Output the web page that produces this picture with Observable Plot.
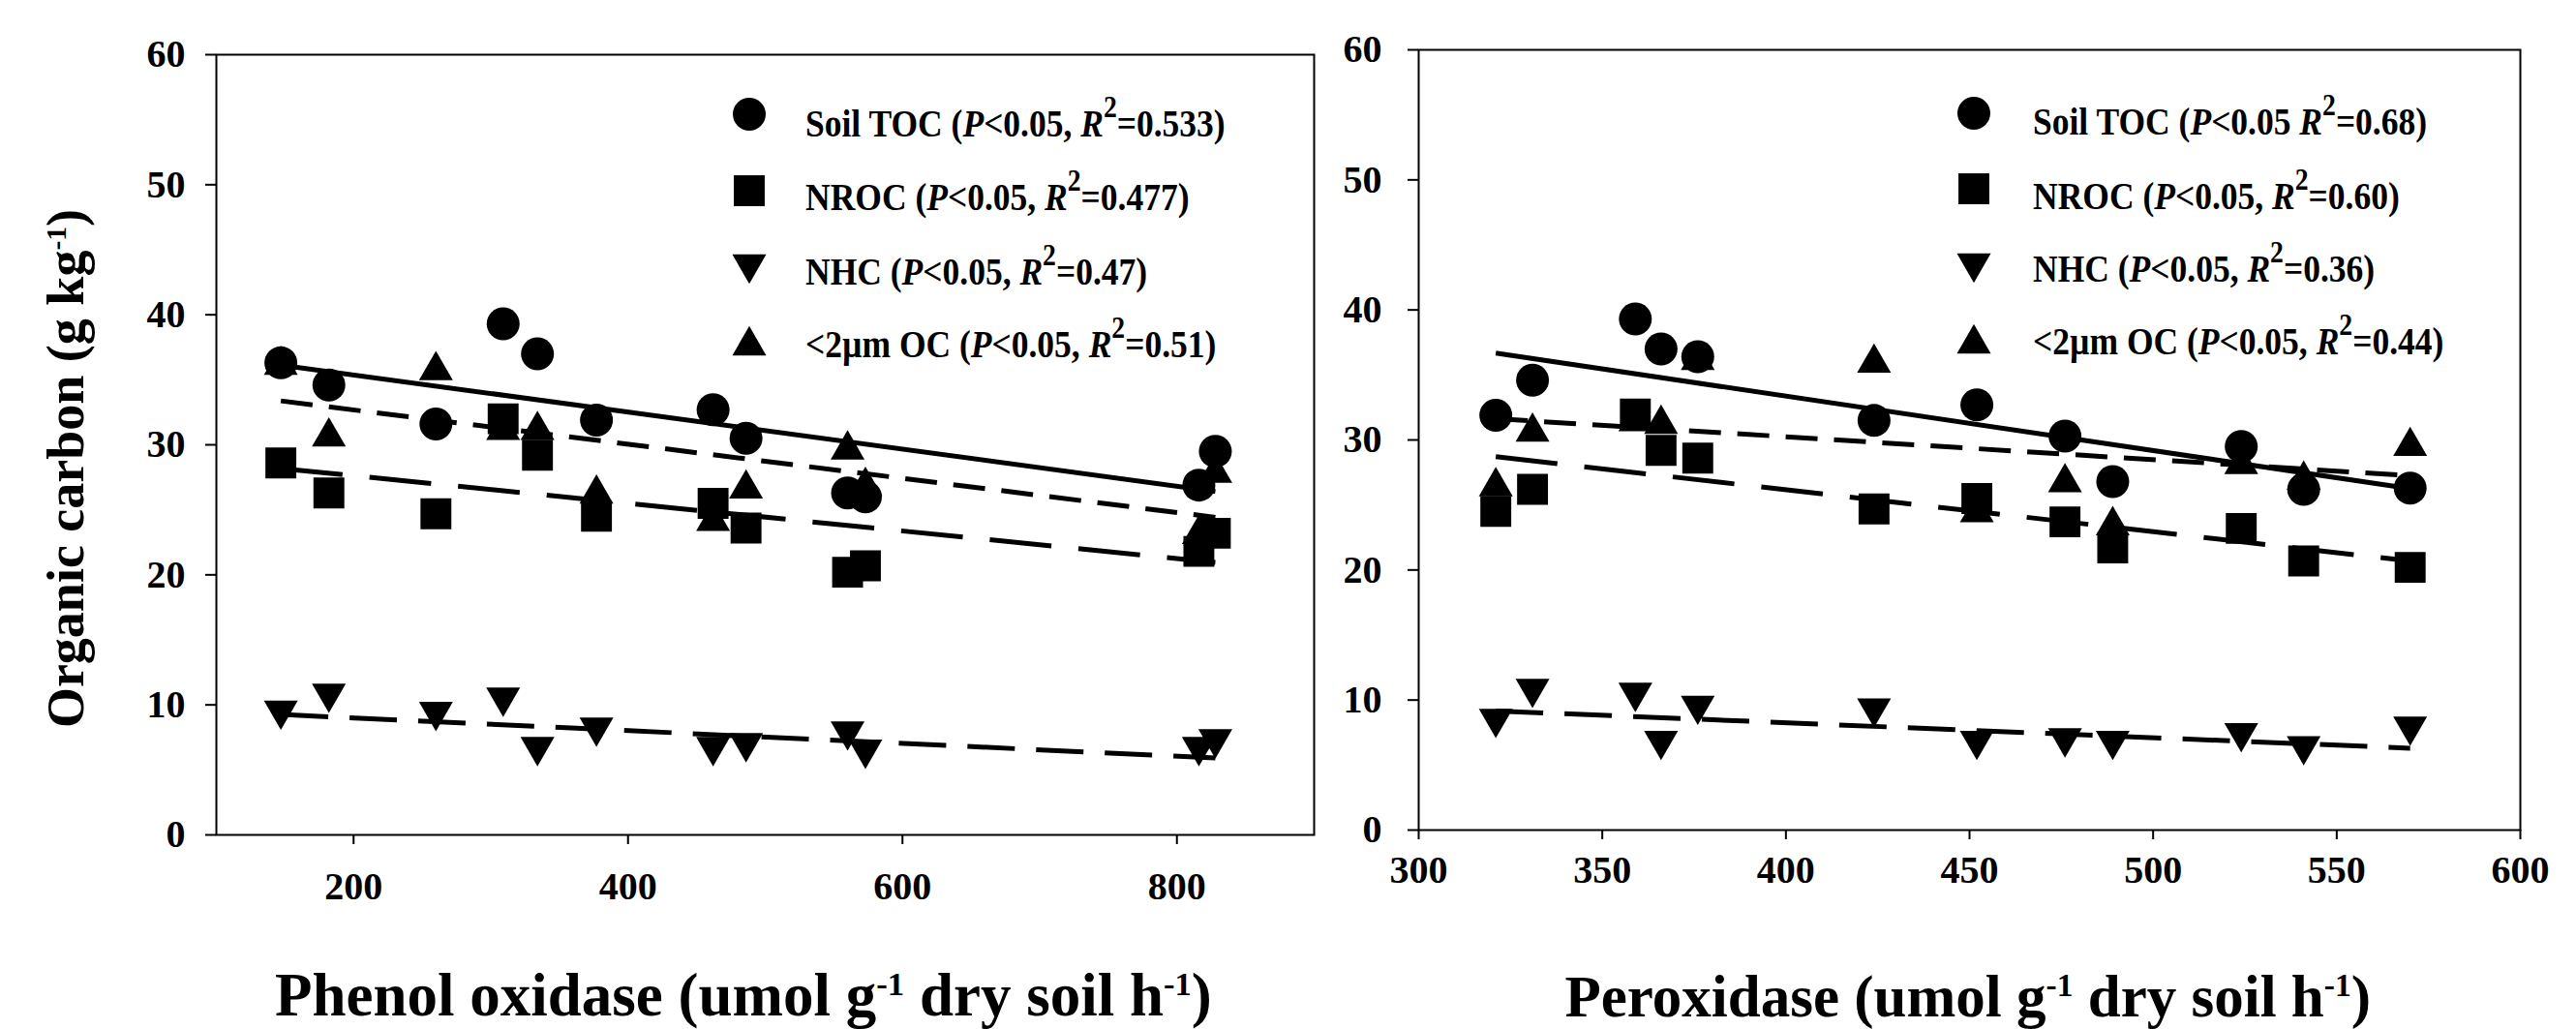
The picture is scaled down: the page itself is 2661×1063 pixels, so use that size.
<!DOCTYPE html>
<html>
<head>
<meta charset="utf-8">
<script src="https://cdn.jsdelivr.net/npm/d3@7"></script>
<script src="https://cdn.jsdelivr.net/npm/@observablehq/plot@0.6"></script>
<style>
html, body { margin: 0; padding: 0; background: #fff; }
#root { position: relative; width: 2661px; height: 1063px; overflow: hidden; background: #fff;
  font-family: "Liberation Serif", "Times New Roman", serif; font-weight: bold; color: #000; }
.panel { position: absolute; top: 0; }
.panel svg { display: block; }
.txt { position: absolute; white-space: nowrap; font-weight: bold; line-height: 1; }
.lsup { font-size: 0.78em; position: relative; top: -0.62em; }
.tsup { font-size: 0.55em; position: relative; top: -0.62em; }
svg g[aria-label$="tick"] { stroke-width: 2px; }
svg g[aria-label$="tick label"] { font-size: 40px; font-weight: bold; }
</style>
</head>
<body>
<div id="root"></div>
<script>
// ---------------- data ----------------
const series = ["Soil TOC", "NROC", "NHC", "<2µm OC"];

// Left panel: Phenol oxidase
const phenolX    = [147, 182, 260, 309, 334, 377, 462, 486, 560, 573, 816, 828];
const phenolTOC  = [36.3, 34.6, 31.6, 39.3, 37.0, 31.9, 32.7, 30.5, 26.3, 26.0, 26.9, 29.5];
const phenolNROC = [28.6, 26.3, 24.7, 32.0, 29.2, 24.5, 25.5, 23.6, 20.2, 20.7, 21.8, 23.2];
const phenolNHC  = [9.2, 10.5, 9.1, 10.2, 6.4, 7.9, 6.4, 6.7, 7.6, 6.2, 6.4, 7.0];
const phenolClay = [36.5, 31.0, 36.1, 31.5, 31.5, 26.6, 24.5, 27.0, 30.0, 27.2, 23.5, 28.2];

// Right panel: Peroxidase
const peroxX    = [321, 331, 359, 366, 376, 424, 452, 476, 489, 524, 541, 570];
const peroxTOC  = [31.9, 34.6, 39.3, 37.0, 36.4, 31.5, 32.7, 30.3, 26.8, 29.5, 26.2, 26.3];
const peroxNROC = [24.5, 26.2, 32.0, 29.2, 28.6, 24.7, 25.5, 23.7, 21.7, 23.2, 20.7, 20.2];
const peroxNHC  = [8.2, 10.5, 10.2, 6.5, 9.2, 9.0, 6.5, 6.7, 6.5, 7.1, 6.1, 7.6];
const peroxClay = [26.8, 31.0, 31.8, 31.6, 36.5, 36.3, 24.8, 27.1, 23.8, 28.5, 27.3, 29.9];

// axes
const yTicks = [0, 10, 20, 30, 40, 50, 60];
const phenolTicks = [200, 400, 600, 800];
const peroxTicks = [300, 350, 400, 450, 500, 550, 600];

// legend statistics
const phenolR2 = ["0.533", "0.477", "0.47", "0.51"];
const peroxR2  = ["0.68", "0.60", "0.36", "0.44"];
const peroxSep = ["", ",", ",", ","];
const phenolSep = [",", ",", ",", ","];

// ---------------- styles ----------------
const triUp = { draw(ctx, size) {
  const a = Math.sqrt(size / (3 * Math.sqrt(3))), h = 3 * a, w = 2 * Math.sqrt(3) * a;
  ctx.moveTo(0, -h / 2); ctx.lineTo(w / 2, h / 2); ctx.lineTo(-w / 2, h / 2); ctx.closePath();
}};
const triDown = { draw(ctx, size) {
  const a = Math.sqrt(size / (3 * Math.sqrt(3))), h = 3 * a, w = 2 * Math.sqrt(3) * a;
  ctx.moveTo(0, h / 2); ctx.lineTo(w / 2, -h / 2); ctx.lineTo(-w / 2, -h / 2); ctx.closePath();
}};
const symbols = [d3.symbolCircle, d3.symbolSquare, triDown, triUp];
const radii = [17, 18, 13, 13];
const dashes = [null, "64,28", "49,22", "33,17"];
const drawOrder = [3, 1, 0, 2];

const root = document.getElementById("root");

function makePanel(xs, cols, xDomain, xTicks, geom) {
  const rows = [];
  series.forEach((s, k) => xs.forEach((x, i) => rows.push({ x, y: cols[k][i], s })));
  const marks = [];
  drawOrder.forEach(k => {
    marks.push(Plot.dot(rows.filter(d => d.s === series[k]), {
      x: "x", y: "y", symbol: symbols[k], r: radii[k], fill: "black", stroke: "none"
    }));
  });
  series.forEach((s, k) => {
    marks.push(Plot.linearRegressionY(rows.filter(d => d.s === s), {
      x: "x", y: "y", stroke: "black", strokeWidth: 5, ci: 0,
      strokeDasharray: dashes[k] || undefined, strokeLinecap: "butt"
    }));
  });
  marks.push(Plot.frame({ stroke: "black", strokeWidth: 2 }));
  const svg = Plot.plot({
    width: geom.width, height: 1063,
    marginLeft: geom.ml, marginRight: geom.mr, marginTop: geom.mt, marginBottom: geom.mb,
    x: { domain: xDomain, ticks: xTicks, tickSize: 10, tickPadding: geom.xpad, label: null, nice: false },
    y: { domain: [0, 60], ticks: yTicks, tickSize: 11, tickPadding: geom.ypad, label: null, nice: false },
    style: { fontFamily: "'Liberation Serif', 'Times New Roman', serif", fontSize: "40px",
             fontWeight: "bold", color: "black", background: "transparent", overflow: "visible" },
    marks
  });
  const div = document.createElement("div");
  div.className = "panel";
  div.style.left = geom.left + "px";
  div.appendChild(svg);
  root.appendChild(div);
}

makePanel(phenolX, [phenolTOC, phenolNROC, phenolNHC, phenolClay], [100, 900], phenolTicks,
  { left: 0, width: 1380, ml: 223, mr: 23, mt: 56, mb: 201, xpad: 28, ypad: 21 });
makePanel(peroxX, [peroxTOC, peroxNROC, peroxNHC, peroxClay], [300, 600], peroxTicks,
  { left: 1380, width: 1281, ml: 85, mr: 58, mt: 51, mb: 206, xpad: 16, ypad: 27 });

// ---------------- text helpers ----------------
function esc(s) { return s.replace(/&/g, "&amp;").replace(/</g, "&lt;"); }
function placeText(html, fontSize, x, baseline, anchor) {
  const el = document.createElement("div");
  el.className = "txt";
  el.style.fontSize = fontSize + "px";
  el.innerHTML = html;
  root.appendChild(el);
  const w = el.offsetWidth;
  let left = x;
  if (anchor === "middle") left = x - w / 2;
  el.style.left = left + "px";
  el.style.top = (baseline - 0.8375 * fontSize) + "px";
  return el;
}

// legends
function legend(r2, sep, mx, my, tx, base) {
  series.forEach((s, k) => {
    const size = Math.PI * radii[k] * radii[k];
    const path = d3.symbol(symbols[k], size)();
    const m = document.createElement("div");
    m.style.position = "absolute";
    m.style.left = (mx - 25) + "px";
    m.style.top = (my[k] - 25) + "px";
    m.innerHTML = `<svg width="50" height="50"><path transform="translate(25,25)" d="${path}" fill="black"/></svg>`;
    root.appendChild(m);
    const html = `${esc(s)} (<i>P</i>&lt;0.05${sep[k]} <i>R</i><span class="lsup">2</span>=${r2[k]})`;
    const F = 35.5;
    const el = placeText(html, F, tx, base[k], "start");
    el.style.transformOrigin = `0px ${0.8375 * F}px`;
    el.style.transform = "scaleY(1.15)";
  });
}
legend(phenolR2, phenolSep, 774, [118, 197, 278, 352], 832, [142, 218, 295, 370]);
legend(peroxR2, peroxSep, 2039, [117, 195, 277, 350], 2100, [140, 217, 292, 367]);

// axis titles
placeText(`Phenol oxidase (umol g<span class="tsup">-1</span> dry soil h<span class="tsup">-1</span>)`, 63, 768, 1050, "middle");
placeText(`Peroxidase (umol g<span class="tsup">-1</span> dry soil h<span class="tsup">-1</span>)`, 61, 2033, 1050, "middle");

// y title (rotated)
(function () {
  const F = 54;
  const el = document.createElement("div");
  el.className = "txt";
  el.style.fontSize = F + "px";
  el.innerHTML = `Organic carbon (g kg<span class="tsup">-1</span>)`;
  root.appendChild(el);
  const w = el.offsetWidth, h = el.offsetHeight;
  const baselineX = 86, bottomY = 752;
  const cx = baselineX - (0.8375 * F - h / 2);
  const cy = bottomY - w / 2;
  el.style.left = (cx - w / 2) + "px";
  el.style.top = (cy - h / 2) + "px";
  el.style.transform = "rotate(-90deg)";
})();
</script>
</body>
</html>
